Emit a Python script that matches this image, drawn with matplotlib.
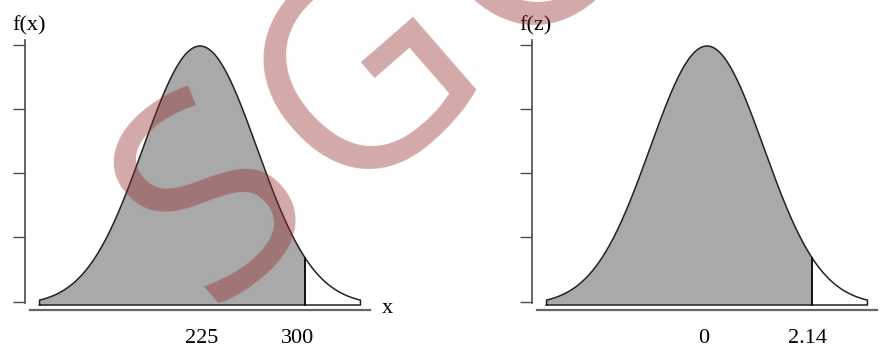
import numpy as np
import matplotlib
matplotlib.use("Agg")
import matplotlib.pyplot as plt
from matplotlib.transforms import ScaledTranslation

# values
mean_x = 225
sd_x = 35
cutoff_x = 300
z_cut = 2.14
x_ticks = [225, 300]
z_ticks = [0, 2.14]
x_tick_labels = ["225", "300"]
z_tick_labels = ["0", "2.14"]
y_tick_frac = [0.012, 0.262, 0.51, 0.757, 1.004]   # unlabeled ticks, as share of peak
watermark = ["S", "G", "G"]
watermark_xy = [(219, 203), (370, 82), (536, -62)]  # pixel centres

# drawing shape of the bell (in sd units of the axis)
draw_sd = 1.16
tail_end = 3.27
axis_half = 3.566
line_half = 3.46

W, H = 889, 350
fig = plt.figure(figsize=(W / 100, H / 100), dpi=100)
serif = "Liberation Serif"
dark = "#4a4a4a"


def panel(left_px, mu, sd, cut, ticks, labels, shifts, ylab, xlab):
    ax = fig.add_axes([left_px / W, 40 / H, 350 / W, 270 / H])
    z = np.linspace(-tail_end, tail_end, 600)
    dens = np.exp(-0.5 * (z / draw_sd) ** 2)
    peak = 1.0
    xs = mu + sd * z
    ax.set_xlim(mu - axis_half * sd, mu + axis_half * sd)
    ax.set_ylim(-5 / 259 * peak, 265 / 259 * peak)

    # shaded part up to the cut
    m = xs <= cut
    xf = np.r_[xs[0], xs[m], cut, cut]
    yf = np.r_[0, dens[m], np.interp(cut, xs, dens), 0]
    ax.fill(xf, yf, color="#a9a9a9", lw=0)
    # outline of the whole bell
    xo = np.r_[xs[0], xs, xs[-1], xs[0]]
    yo = np.r_[0, dens, 0, 0]
    ax.plot(xo, yo, color="#222222", lw=1.1)
    ax.plot([cut, cut], [0, np.interp(cut, xs, dens)], color="#111111", lw=1.4)

    for s in ["top", "right"]:
        ax.spines[s].set_visible(False)
    ax.spines["left"].set_bounds(2 / 259 * peak, 265 / 259 * peak)
    ax.spines["left"].set_color(dark)
    ax.spines["left"].set_linewidth(1.2)
    ax.spines["bottom"].set_bounds(mu - line_half * sd, mu + line_half * sd)
    ax.spines["bottom"].set_color("#666666")
    ax.spines["bottom"].set_linewidth(1.6)
    ax.set_yticks([f * peak for f in y_tick_frac])
    ax.set_yticklabels([])
    ax.tick_params(axis="y", direction="out", length=8.5, width=1.0, color=dark)
    ax.set_xticks(ticks)
    ax.set_xticklabels(labels, fontfamily=serif, fontsize=16)
    ax.tick_params(axis="x", length=0, pad=14)
    for lab, dx in zip(ax.get_xticklabels(), shifts):
        lab.set_transform(lab.get_transform() +
                          ScaledTranslation(dx / 100, 0, fig.dpi_scale_trans))
    ax.patch.set_visible(False)

    fig.text((left_px - 13) / W, (H - 26) / H, ylab, fontfamily=serif,
             fontsize=16, ha="left", va="center")
    fig.text((left_px + 362) / W, (H - 313) / H, xlab, fontfamily=serif,
             fontsize=16, ha="center", va="baseline")
    return ax


panel(25, mean_x, sd_x, cutoff_x, x_ticks, x_tick_labels, [2, -8], "f(x)", "x")
panel(532, 0, 1, z_cut, z_ticks, z_tick_labels, [-3, -5], "f(z)", "z")

for ch, (px, py) in zip(watermark, watermark_xy):
    fig.text(px / W, (H - py) / H, ch, fontsize=200, family="Open Sans",
             color="#932828", alpha=0.4, rotation=41, ha="center",
             va="center", rotation_mode="anchor", zorder=10)

fig.savefig("out.png", dpi=100)
